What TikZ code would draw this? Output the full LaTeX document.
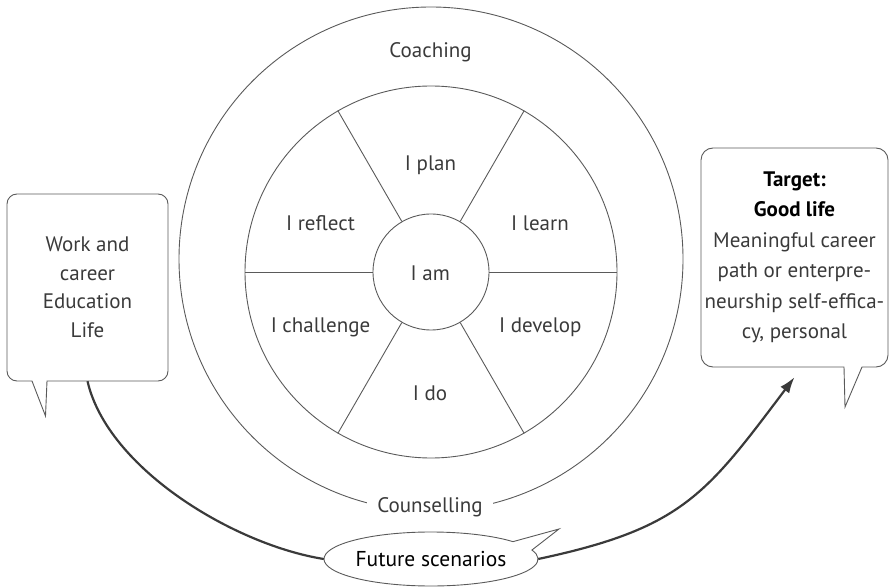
\documentclass[tikz,border=0pt]{standalone}
\usepackage{fontspec}
\setmainfont{PT Sans}
\usetikzlibrary{arrows.meta,shapes.geometric,calc}
\definecolor{ln}{HTML}{5A5A5A}
\definecolor{tx}{HTML}{3A3A3A}
\definecolor{flowc}{HTML}{3A3A3A}
\begin{document}
\begin{tikzpicture}[x=1pt,y=1pt,
  lbl/.style={font=\fontsize{21}{24}\selectfont, text=tx, anchor=base, inner sep=0pt},
  thin/.style={draw=ln, line width=0.9pt},
  ring/.style={circle, thin, inner sep=0pt},
  boxtext/.style={align=center, text=tx, inner sep=0pt},
  flow/.style={draw=flowc, line width=2.2pt},
]
\useasboundingbox (0,0) rectangle (891,587);

% wheel
\node[ring, minimum size=504pt] (outer) at (431,328) {};
\node[ring, minimum size=372pt] (wheel) at (431,315) {};
\node[ring, minimum size=116pt] (core) at (431,315) {};
\foreach \a in {0,60,...,300} \draw[thin] (core.\a) -- (wheel.\a);

\node[lbl] (coach) at (430.5,529.7) {Coaching};
\node[lbl] (plan) at (430.5,416.5) {I plan};
\node[lbl] (reflect) at (320.5,356.3) {I reflect};
\node[lbl] (learn) at (540,356.3) {I learn};
\node[lbl] (am) at (430.3,306) {I am};
\node[lbl] (challenge) at (320.5,254.7) {I challenge};
\node[lbl] (develop) at (540.3,254.7) {I develop};
\node[lbl] (do) at (430,186.3) {I do};
\node[lbl, fill=white, inner xsep=10pt, inner ysep=4pt] (couns) at (430,74.3) {Counselling};

% left callout
\node[boxtext, minimum width=161pt, minimum height=187pt,
      font=\fontsize{21}{28.5}\selectfont] (wb) at (87.5,299.5)
  {Work and\\career\\Education\\Life};
\draw[thin] (47,206) -- (158,206) arc[start angle=-90, end angle=0, radius=10]
  -- (168,383) arc[start angle=0, end angle=90, radius=10]
  -- (17,393) arc[start angle=90, end angle=180, radius=10]
  -- (7,216) arc[start angle=180, end angle=270, radius=10]
  -- (32,206) -- (45.5,171) -- cycle;

% right callout
\node[boxtext, minimum width=187pt, minimum height=219pt,
      font=\fontsize{21}{30.5}\selectfont] (tb) at (794.5,329.5)
  {\textcolor{black}{\bfseries Target:}\\\textcolor{black}{\bfseries Good life}\\Meaningful career\\path or enterpre-\\neurship self-effica-\\cy, personal};
\draw[thin] (862,220) -- (876,220) arc[start angle=-90, end angle=0, radius=12]
  -- (888,427) arc[start angle=0, end angle=90, radius=12]
  -- (713,439) arc[start angle=90, end angle=180, radius=12]
  -- (701,232) arc[start angle=180, end angle=270, radius=12]
  -- (844,220) -- (845,180) -- cycle;

% future scenarios callout
\node[ellipse, minimum width=214pt, minimum height=54pt, inner sep=0pt,
      font=\fontsize{21.5}{24}\selectfont, text=black] (fs) at (431,28) {Future scenarios};
\draw[thin] (559,58) -- ($(fs.center)+(40:107 and 27)$)
  arc[start angle=40, end angle=379.4, x radius=107, y radius=27] -- cycle;

% flow connectors
\coordinate (tip) at ($(tb.south)+(0,-10)$);
\draw[flow] (wb.south) to[out=-77, in=171, looseness=0.78] (fs.west);
\draw[flow, -{Latex[length=16pt, width=11pt]}] (fs.east) to[out=12, in=-127, looseness=1.2] (tip);
\end{tikzpicture}
\end{document}
